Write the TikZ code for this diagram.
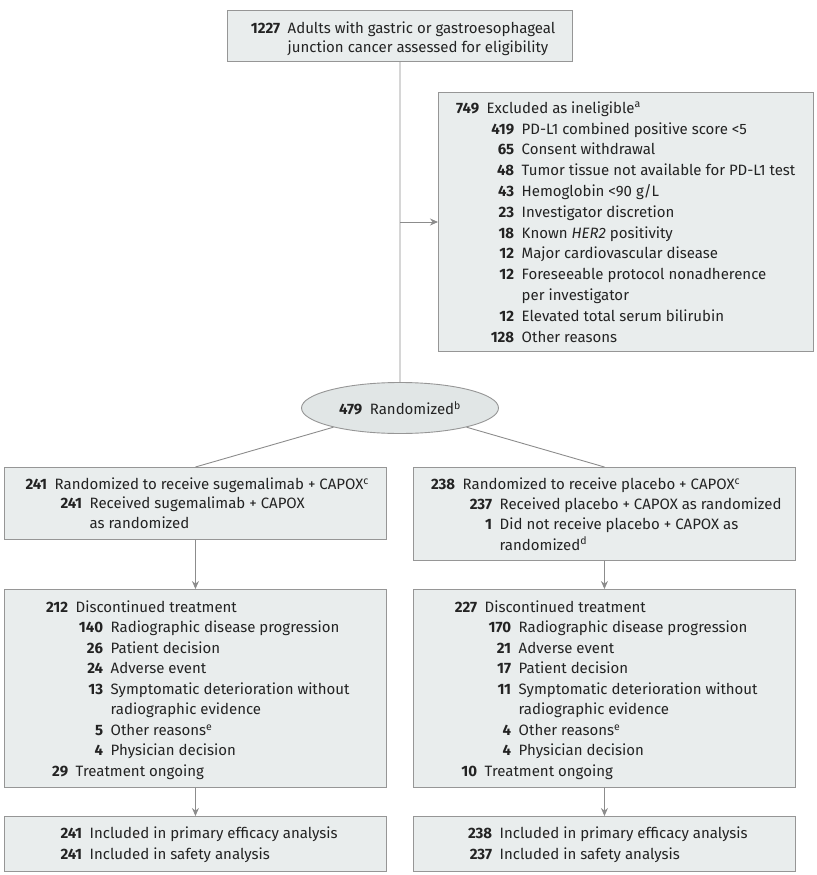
\documentclass[tikz,border=0pt]{standalone}
\usepackage{fontspec}
\setmainfont{Fira Sans}
\usetikzlibrary{shapes.geometric,arrows.meta}
\definecolor{boxfill}{RGB}{233,237,237}
\definecolor{ellfill}{RGB}{225,230,230}
\definecolor{boxdraw}{RGB}{150,150,150}
\definecolor{linecol}{RGB}{140,140,140}
\definecolor{txtcol}{RGB}{35,35,35}
\newcommand\numcol[2]{\makebox[#1bp][r]{\bfseries #2}\hspace{7.5bp}}
\newcommand\indcol[1]{\hspace*{#1bp}}
\tikzset{
  box/.style={draw=boxdraw, fill=boxfill, line width=0.9bp, rectangle, inner sep=0pt, anchor=north west},
  txt/.style={inner sep=0pt, anchor=north west, align=left, text=txtcol},
  conn/.style={draw=linecol, line width=0.9bp},
  arr/.style={conn, -{Stealth[length=8bp,width=7bp]}, fill=linecol},
}
\begin{document}
\begin{tikzpicture}[x=1bp,y=-1bp]
\useasboundingbox (0,0) rectangle (817,875);
% boxes
\node[box, minimum width=345bp, minimum height=51bp] (top) at (227,10) {};
\node[box, minimum width=375bp, minimum height=259bp] (ex) at (438,92) {};
\node[draw=boxdraw, fill=ellfill, line width=0.9bp, ellipse, minimum width=197bp, minimum height=51bp, inner sep=0pt, text=txtcol, font=\fontsize{15bp}{18bp}\selectfont] (ell) at (400,408) {\textbf{479}\hspace{7.5bp}Randomized\textsuperscript{b}};
\node[box, minimum width=382bp, minimum height=72bp] (lb2) at (4,467) {};
\node[box, minimum width=382bp, minimum height=93bp] (rb2) at (413,467) {};
\node[box, minimum width=382bp, minimum height=198bp] (lb3) at (4,589) {};
\node[box, minimum width=382bp, minimum height=198bp] (rb3) at (413,589) {};
\node[box, minimum width=382bp, minimum height=55bp] (lb4) at (4,816) {};
\node[box, minimum width=382bp, minimum height=55bp] (rb4) at (413,816) {};
% texts
\node[txt, font=\fontsize{15bp}{19bp}\selectfont] (ttop) at (240,21) {\rule{0pt}{12bp}\numcol{40}{1227}Adults with gastric or gastroesophageal\\
\indcol{47.5}junction cancer assessed for eligibility};
\node[txt, font=\fontsize{15bp}{20.8bp}\selectfont] (tex) at (450,101) {\rule{0pt}{12bp}\numcol{29}{749}Excluded as ineligible\textsuperscript{a}\\
\numcol{64}{419}PD-L1 combined positive score <5\\
\numcol{64}{65}Consent withdrawal\\
\numcol{64}{48}Tumor tissue not available for PD-L1 test\\
\numcol{64}{43}Hemoglobin <90 g/L\\
\numcol{64}{23}Investigator discretion\\
\numcol{64}{18}Known \textit{HER2} positivity\\
\numcol{64}{12}Major cardiovascular disease\\
\numcol{64}{12}Foreseeable protocol nonadherence\\
\indcol{71.5}per investigator\\
\numcol{64}{12}Elevated total serum bilirubin\\
\numcol{64}{128}Other reasons};
\node[txt, font=\fontsize{15bp}{19.5bp}\selectfont] (tlb2) at (15,477) {\rule{0pt}{12bp}\numcol{32}{241}Randomized to receive sugemalimab + CAPOX\textsuperscript{c}\\
\numcol{67}{241}Received sugemalimab + CAPOX\\
\indcol{74.5}as randomized};
\node[txt, font=\fontsize{15bp}{20.3bp}\selectfont] (trb2) at (420,477) {\rule{0pt}{12bp}\numcol{35}{238}Randomized to receive placebo + CAPOX\textsuperscript{c}\\
\numcol{72}{237}Received placebo + CAPOX as randomized\\
\numcol{72}{1}Did not receive placebo + CAPOX as\\
\indcol{79.5}randomized\textsuperscript{d}};
\node[txt, font=\fontsize{15bp}{20.5bp}\selectfont] (tlb3) at (30,600) {\rule{0pt}{12bp}\numcol{38}{212}Discontinued treatment\\
\numcol{73}{140}Radiographic disease progression\\
\numcol{73}{26}Patient decision\\
\numcol{73}{24}Adverse event\\
\numcol{73}{13}Symptomatic deterioration without\\
\indcol{80.5}radiographic evidence\\
\numcol{73}{5}Other reasons\textsuperscript{e}\\
\numcol{73}{4}Physician decision\\
\numcol{38}{29}Treatment ongoing};
\node[txt, font=\fontsize{15bp}{20.5bp}\selectfont] (trb3) at (440,600) {\rule{0pt}{12bp}\numcol{37}{227}Discontinued treatment\\
\numcol{71}{170}Radiographic disease progression\\
\numcol{71}{21}Adverse event\\
\numcol{71}{17}Patient decision\\
\numcol{71}{11}Symptomatic deterioration without\\
\indcol{78.5}radiographic evidence\\
\numcol{71}{4}Other reasons\textsuperscript{e}\\
\numcol{71}{4}Physician decision\\
\numcol{37}{10}Treatment ongoing};
\node[txt, font=\fontsize{15bp}{21bp}\selectfont] (tlb4) at (40,826) {\rule{0pt}{12bp}\numcol{42}{241}Included in primary efficacy analysis\\
\numcol{42}{241}Included in safety analysis};
\node[txt, font=\fontsize{15bp}{21bp}\selectfont] (trb4) at (450,826) {\rule{0pt}{12bp}\numcol{42}{238}Included in primary efficacy analysis\\
\numcol{42}{237}Included in safety analysis};
% connectors
\coordinate (j) at (400,222);
\draw[conn] (top.south) -- (ell.north);
\draw[arr] (j) -- (j -| ex.west);
\draw[conn] (ell) -- (lb2.north);
\draw[conn] (ell) -- (rb2.north);
\draw[arr] (lb2.south) -- (lb3.north);
\draw[arr] (rb2.south) -- (rb3.north);
\draw[arr] (lb3.south) -- (lb4.north);
\draw[arr] (rb3.south) -- (rb4.north);
\end{tikzpicture}
\end{document}
